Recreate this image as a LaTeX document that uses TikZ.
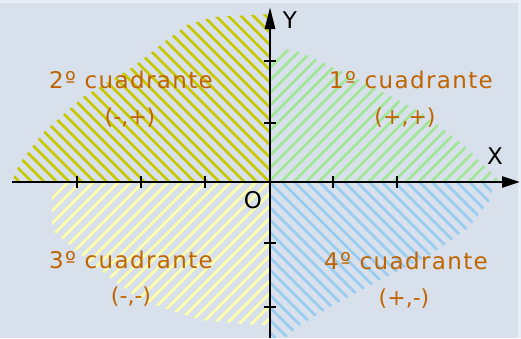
\documentclass[tikz,border=0pt]{standalone}
\usepackage{fontspec}
\setmainfont{DejaVu Sans}
\newfontfamily\labfont[LetterSpace=6]{DejaVu Sans}
\usetikzlibrary{arrows.meta}
\definecolor{bgc}{RGB}{216,224,236}
\definecolor{bgl}{RGB}{232,238,246}
\definecolor{qone}{RGB}{162,230,152}
\definecolor{qtwo}{RGB}{200,200,0}
\definecolor{qthree}{RGB}{255,255,168}
\definecolor{qfour}{RGB}{152,204,240}
\definecolor{txtc}{RGB}{192,100,0}
\tikzset{
  hatch/.style={line width=2.8pt},
  axis/.style={line width=2.6pt},
  tick/.style={line width=2pt},
  qlabel/.style={text=txtc, font=\labfont\fontsize{23}{27}\selectfont, inner sep=0pt},
  slabel/.style={text=txtc, font=\fontsize{22}{26}\selectfont, inner sep=0pt},
  axlabel/.style={text=black, font=\fontsize{23}{27}\selectfont, inner sep=0pt}
}
\begin{document}
\begin{tikzpicture}[x=1pt,y=-1pt]
\useasboundingbox (0,0) rectangle (521,338);
\fill[bgl] (0,0) rectangle (521,338);
\fill[bgc] (0,3) rectangle (518,338);
% Q2 hatch
\begin{scope}
\clip (12,181) -- (20,163) -- (43,133) -- (83,97) -- (133,67) -- (163,43) -- (187,25) -- (213,17) -- (270,14) -- (270,181) -- cycle;
\foreach \i in {-400,-387.5,...,300} \draw[hatch,qtwo] (\i,0) -- ++(338,338);
\end{scope}
% Q1 hatch
\begin{scope}
\clip (270,46) -- (300,52) -- (360,80) -- (420,112) -- (460,142) -- (500,181) -- (270,181) -- cycle;
\foreach \i in {0,12.5,...,700} \draw[hatch,qone] (\i,338) -- ++(338,-338);
\end{scope}
% Q3 hatch
\begin{scope}
\clip (270,183) -- (57,183) -- (52,195) -- (52,230) -- (90,262) -- (140,300) -- (200,320) -- (255,325) -- (270,325) -- cycle;
\foreach \i in {-300,-287.5,...,400} \draw[hatch,qthree] (\i,338) -- ++(338,-338);
\end{scope}
% Q4 hatch
\begin{scope}
\clip (270,183) -- (493,183) -- (490,200) -- (468,228) -- (430,255) -- (380,280) -- (337,303) -- (300,325) -- (285,338) -- (270,338) -- cycle;
\foreach \i in {-200,-187.5,...,600} \draw[hatch,qfour] (\i,0) -- ++(338,338);
\end{scope}
% axes
\coordinate (xs) at (12,182);
\coordinate (xe) at (520,182);
\coordinate (ys) at (270,338);
\coordinate (ye) at (270,7);
\draw[axis,-{Triangle[length=18pt,width=11pt]}] (xs) -- (xe);
\draw[axis,-{Triangle[length=22pt,width=10pt]}] (ys) -- (ye);
\foreach \x in {77,141,205,333,397} \draw[tick] (\x,176) -- (\x,188);
\foreach \y in {61,123,243,307} \draw[tick] (264,\y) -- (276,\y);
% labels
\node[axlabel] (ly) at (290,20) {Y};
\node[axlabel] (lx) at (495,156) {X};
\node[axlabel] (lo) at (253,200) {O};
\node[qlabel] (q1) at (411,80) {1º cuadrante};
\node[slabel] (s1) at (405,118) {(+,+)};
\node[qlabel] (q2) at (131,80) {2º cuadrante};
\node[slabel] (s2) at (130,118) {(-,+)};
\node[qlabel] (q3) at (131,260) {3º cuadrante};
\node[slabel] (s3) at (131,297) {(-,-)};
\node[qlabel] (q4) at (406,261) {4º cuadrante};
\node[slabel] (s4) at (404,299) {(+,-)};
\end{tikzpicture}
\end{document}
